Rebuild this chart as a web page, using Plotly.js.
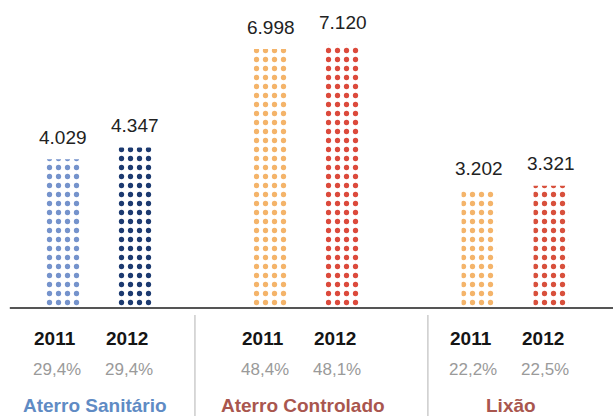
<!DOCTYPE html>
<html>
<head>
<meta charset="utf-8">
<script src="https://cdn.plot.ly/plotly-3.0.1.min.js"></script>
<style>html,body{margin:0;padding:0;background:#fff;}#chart{width:613px;height:416px;}</style>
</head>
<body>
<div id="chart"></div>
<script>
// ---- data ----
const categories = ['Aterro Sanitário', 'Aterro Controlado', 'Lixão'];
const years = ['2011', '2012'];
const values2011 = [4029, 6998, 3202];
const values2012 = [4347, 7120, 3321];
const share2011 = ['29,4%', '48,4%', '22,2%'];
const share2012 = ['29,4%', '48,1%', '22,5%'];

// ---- styles ----
const dots2011 = ['#7593cc', '#f4b46a', '#f4b46a'];
const dots2012 = ['#1c3a70', '#dc4a3c', '#d8503c'];
const groupColors = ['#5f8bc4', '#a9564e', '#a9564e'];
const FONT = 'Liberation Sans, Arial, Helvetica, sans-serif';

function fmt(v) { return String(v).replace(/\B(?=(\d{3})+(?!\d))/g, '.'); }

function barTrace(name, vals, cols) {
  return {
    type: 'bar', name: name, x: categories, y: vals,
    marker: {
      color: '#ffffff',
      line: {width: 0},
      pattern: {shape: '.', size: 9, solidity: 0.27, fgcolor: cols, bgcolor: '#ffffff', fillmode: 'replace'}
    },
    hoverinfo: 'skip'
  };
}

const traces = [barTrace(years[0], values2011, dots2011), barTrace(years[1], values2012, dots2012)];

const OFF = 36; // half distance between bar centres in a group (px)
const annotations = [];
const series = [values2011, values2012];
const shares = [share2011, share2012];
categories.forEach((c, i) => {
  series.forEach((vals, j) => {
    const dx = j === 0 ? -OFF : OFF;
    annotations.push({x: c, y: vals[i], xref: 'x', yref: 'y', xshift: dx, yshift: 22,
      text: fmt(vals[i]), showarrow: false, xanchor: 'center', yanchor: 'middle',
      font: {family: FONT, size: 19, color: '#222'}});
    annotations.push({x: c, y: -0.1003, xref: 'x', yref: 'paper', xshift: dx - 8,
      text: '<b>' + years[j] + '</b>', showarrow: false, xanchor: 'center', yanchor: 'middle',
      font: {family: FONT, size: 19, color: '#151515'}});
    annotations.push({x: c, y: -0.204, xref: 'x', yref: 'paper', xshift: dx - 6,
      text: shares[j][i], showarrow: false, xanchor: 'center', yanchor: 'middle',
      font: {family: FONT, size: 17, color: '#9a9a9a'}});
  });
  annotations.push({x: c, y: -0.322, xref: 'x', yref: 'paper', xshift: -4,
    text: '<b>' + c + '</b>', showarrow: false, xanchor: 'center', yanchor: 'middle',
    font: {family: FONT, size: 19, color: groupColors[i]}});
});

const layout = {
  width: 613, height: 416,
  margin: {l: 0, r: 0, t: 10, b: 107},
  paper_bgcolor: '#ffffff', plot_bgcolor: '#ffffff',
  barmode: 'group', bargap: 0.308, bargroupgap: 0.514,
  showlegend: false,
  separators: ',.',
  xaxis: {type: 'category', range: [-0.476, 2.471], showticklabels: false, showgrid: false,
          zeroline: false, showline: false, ticks: '', fixedrange: true},
  yaxis: {range: [0, 8050], visible: false, showgrid: false, zeroline: false, fixedrange: true},
  shapes: [
    {type: 'line', xref: 'paper', yref: 'y', x0: 0.016, x1: 1, y0: 0, y1: 0,
     line: {color: '#555555', width: 4}},
    {type: 'line', xref: 'paper', yref: 'paper', x0: 0.318, x1: 0.318, y0: -0.02, y1: -0.36,
     line: {color: '#cccccc', width: 1.5}},
    {type: 'line', xref: 'paper', yref: 'paper', x0: 0.698, x1: 0.698, y0: -0.02, y1: -0.36,
     line: {color: '#cccccc', width: 1.5}}
  ],
  annotations: annotations
};

Plotly.newPlot('chart', traces, layout, {displayModeBar: false, staticPlot: true});
</script>
</body>
</html>
